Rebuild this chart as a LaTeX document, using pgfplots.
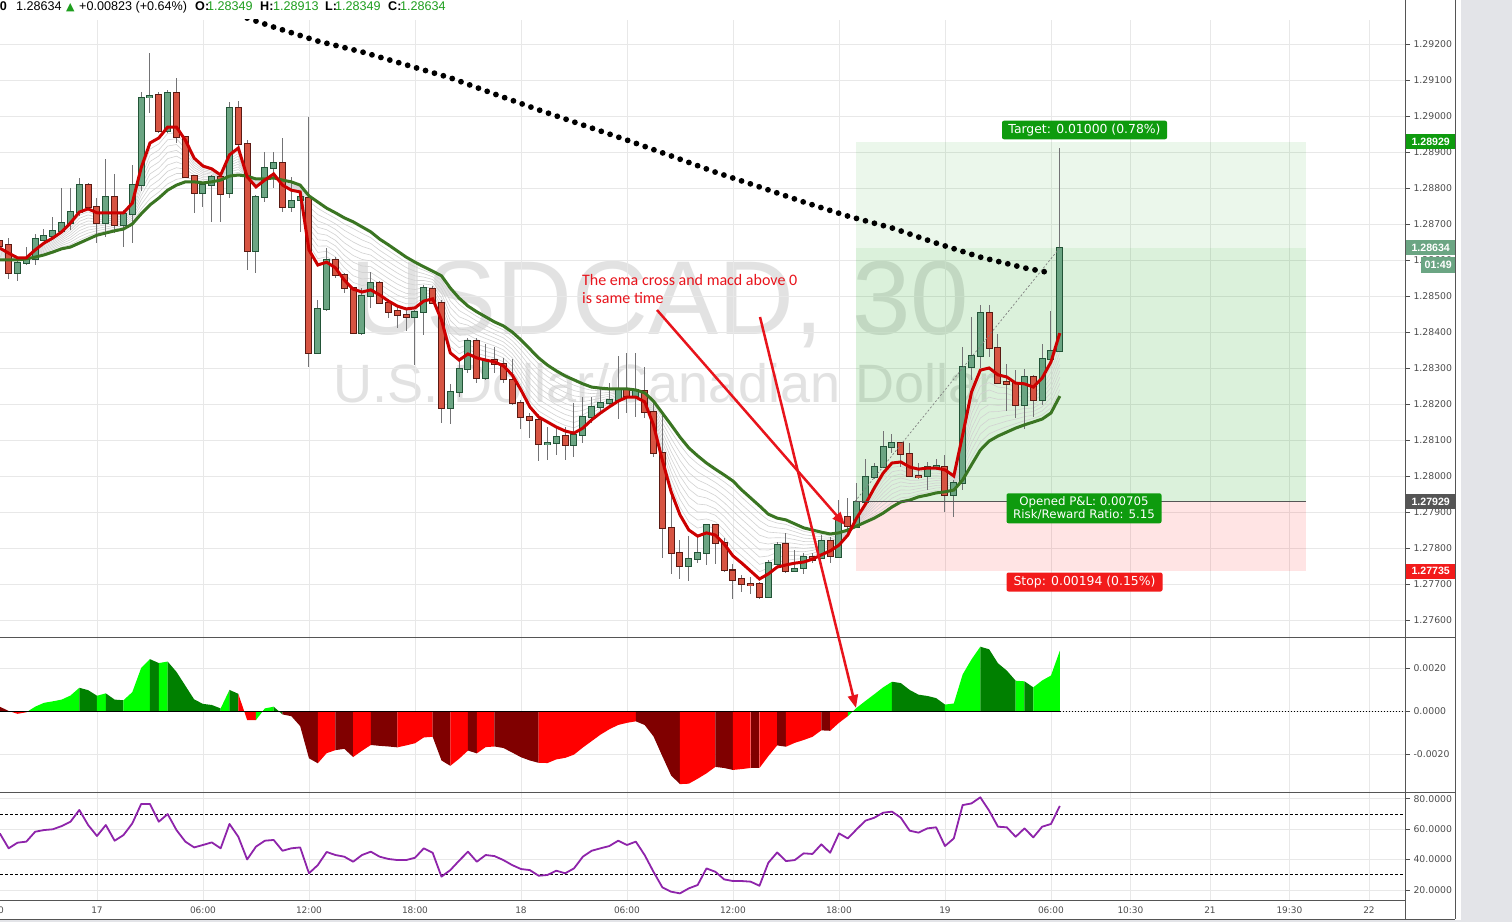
\documentclass[border=0pt]{standalone}
\usepackage{pgfplots}
\pgfplotsset{compat=1.18}
\usepackage{pgfplotstable}
\usepackage{fontspec}
\setmainfont{Liberation Sans}
\newfontfamily\dejavu{DejaVu Sans}
\newfontfamily\carlito{Carlito}
\usetikzlibrary{arrows.meta}

\definecolor{upfill}{HTML}{6BA583}
\definecolor{upline}{HTML}{225437}
\definecolor{dnfill}{HTML}{D75442}
\definecolor{dnline}{HTML}{5B1A13}
\definecolor{wick}{HTML}{737375}
\definecolor{emared}{HTML}{CC0000}
\definecolor{emagreen}{HTML}{3A7522}
\definecolor{ribbon}{HTML}{D2D2D2}
\definecolor{gridc}{HTML}{E8E8E8}
\definecolor{lbl}{HTML}{4D4D4D}
\definecolor{frame}{HTML}{555555}
\definecolor{tvgreen}{HTML}{0E9B0E}
\definecolor{tvred}{HTML}{F21B1B}
\definecolor{boxgreen}{RGB}{0,160,0}
\definecolor{hgreen}{HTML}{00FF00}
\definecolor{hdkgreen}{HTML}{008000}
\definecolor{hred}{HTML}{FF0000}
\definecolor{hdkred}{HTML}{800000}
\definecolor{rsic}{HTML}{8E24AA}
\definecolor{side}{HTML}{E3E4E8}
\definecolor{wm}{HTML}{E2E2E2}
\definecolor{note}{HTML}{E8141C}
\definecolor{hdrgreen}{HTML}{1E9E1E}

% 30 min bars, i = 0 is 17th 00:00
\pgfplotstableread{
i o h l c
-9 1.28564 1.28600 1.28544 1.28592
-8 1.28592 1.28636 1.28586 1.28603
-7 1.28603 1.28672 1.28586 1.28658
-6 1.28658 1.28686 1.28656 1.28669
-5 1.28669 1.28719 1.28667 1.28681
-4 1.28681 1.28800 1.28675 1.28703
-3 1.28703 1.28800 1.28683 1.28733
-2 1.28733 1.28828 1.28725 1.28808
1 1.28703 1.28881 1.28664 1.28775
3 1.28697 1.28739 1.28636 1.28728
4 1.28728 1.28864 1.28647 1.28808
5 1.28808 1.29067 1.28794 1.29050
6 1.29053 1.29175 1.29008 1.29056
8 1.28958 1.29072 1.28953 1.29064
12 1.28786 1.28817 1.28747 1.28808
13 1.28808 1.28836 1.28706 1.28831
15 1.28786 1.29039 1.28772 1.29022
18 1.28625 1.28781 1.28564 1.28775
19 1.28775 1.28900 1.28761 1.28856
20 1.28856 1.28900 1.28800 1.28869
22 1.28747 1.28831 1.28733 1.28764
23 1.28767 1.28794 1.28678 1.28775
25 1.28344 1.28489 1.28344 1.28464
26 1.28464 1.28633 1.28458 1.28600
30 1.28398 1.28522 1.28392 1.28500
31 1.28500 1.28567 1.28467 1.28536
36 1.28442 1.28461 1.28308 1.28456
37 1.28456 1.28531 1.28392 1.28522
40 1.28189 1.28258 1.28147 1.28233
41 1.28233 1.28322 1.28219 1.28297
42 1.28297 1.28383 1.28286 1.28375
44 1.28272 1.28367 1.28267 1.28322
51 1.28089 1.28136 1.28044 1.28092
52 1.28092 1.28136 1.28058 1.28111
54 1.28086 1.28203 1.28053 1.28114
55 1.28114 1.28219 1.28092 1.28164
56 1.28164 1.28219 1.28147 1.28192
57 1.28192 1.28244 1.28175 1.28203
58 1.28203 1.28258 1.28189 1.28211
59 1.28211 1.28336 1.28161 1.28242
61 1.28222 1.28342 1.28164 1.28239
67 1.27750 1.27833 1.27708 1.27769
68 1.27769 1.27831 1.27758 1.27786
69 1.27786 1.27869 1.27753 1.27864
76 1.27664 1.27767 1.27661 1.27758
77 1.27758 1.27817 1.27747 1.27811
79 1.27739 1.27794 1.27736 1.27744
80 1.27744 1.27789 1.27728 1.27775
82 1.27772 1.27836 1.27769 1.27819
84 1.27775 1.27933 1.27772 1.27886
86 1.27861 1.27981 1.27856 1.27928
87 1.27928 1.28050 1.27925 1.27997
88 1.27997 1.28036 1.27994 1.28025
89 1.28025 1.28125 1.28022 1.28081
90 1.28081 1.28117 1.28064 1.28092
94 1.28000 1.28039 1.27961 1.28025
95 1.28022 1.28047 1.28017 1.28028
97 1.27947 1.27989 1.27886 1.27981
98 1.27981 1.28358 1.27961 1.28303
99 1.28303 1.28442 1.28267 1.28333
100 1.28333 1.28475 1.28300 1.28453
105 1.28197 1.28300 1.28133 1.28275
107 1.28211 1.28369 1.28197 1.28325
108 1.28325 1.28458 1.28322 1.28347
109 1.28349 1.28913 1.28349 1.28634
}\upbars

\pgfplotstableread{
i o h l c
-11 1.28653 1.28733 1.28594 1.28639
-10 1.28644 1.28661 1.28547 1.28564
-1 1.28808 1.28814 1.28739 1.28747
0 1.28747 1.28772 1.28647 1.28703
2 1.28775 1.28839 1.28675 1.28697
7 1.29058 1.29067 1.28953 1.28958
9 1.29064 1.29106 1.28925 1.28942
10 1.28942 1.28942 1.28828 1.28833
11 1.28833 1.28833 1.28731 1.28786
14 1.28831 1.28831 1.28706 1.28786
16 1.29022 1.29044 1.28914 1.28922
17 1.28922 1.28933 1.28572 1.28625
21 1.28869 1.28939 1.28733 1.28747
24 1.28775 1.28997 1.28303 1.28344
27 1.28600 1.28608 1.28550 1.28558
28 1.28558 1.28564 1.28508 1.28522
29 1.28522 1.28525 1.28395 1.28398
32 1.28536 1.28542 1.28478 1.28481
33 1.28481 1.28494 1.28439 1.28458
34 1.28458 1.28469 1.28411 1.28447
35 1.28447 1.28464 1.28403 1.28442
38 1.28522 1.28528 1.28478 1.28481
39 1.28481 1.28489 1.28147 1.28189
43 1.28375 1.28383 1.28258 1.28272
45 1.28322 1.28358 1.28286 1.28311
46 1.28311 1.28328 1.28258 1.28269
47 1.28269 1.28325 1.28197 1.28203
48 1.28203 1.28211 1.28131 1.28164
49 1.28164 1.28175 1.28106 1.28156
50 1.28156 1.28175 1.28044 1.28089
53 1.28111 1.28136 1.28044 1.28086
60 1.28242 1.28342 1.28175 1.28222
62 1.28236 1.28303 1.28161 1.28178
63 1.28178 1.28211 1.28053 1.28064
64 1.28064 1.28178 1.27775 1.27856
65 1.27856 1.27961 1.27728 1.27786
66 1.27786 1.27822 1.27716 1.27750
70 1.27864 1.27869 1.27758 1.27814
71 1.27814 1.27828 1.27733 1.27739
72 1.27739 1.27758 1.27661 1.27714
73 1.27714 1.27725 1.27678 1.27700
74 1.27700 1.27719 1.27672 1.27697
75 1.27700 1.27706 1.27658 1.27664
78 1.27811 1.27842 1.27731 1.27736
81 1.27775 1.27786 1.27758 1.27769
83 1.27819 1.27831 1.27758 1.27778
85 1.27886 1.27939 1.27842 1.27861
91 1.28092 1.28094 1.28025 1.28061
92 1.28061 1.28092 1.27997 1.28000
93 1.28000 1.28039 1.27994 1.27997
96 1.28025 1.28058 1.27900 1.27947
101 1.28453 1.28475 1.28331 1.28358
102 1.28358 1.28397 1.28258 1.28261
103 1.28261 1.28314 1.28183 1.28256
104 1.28258 1.28294 1.28161 1.28197
106 1.28275 1.28281 1.28164 1.28211
}\dnbars

% fast (r) and slow (g) EMA
\pgfplotstableread{
i r g
-11 1.28633 1.28600
-10 1.28619 1.28600
-9 1.28606 1.28600
-8 1.28606 1.28603
-7 1.28628 1.28608
-6 1.28647 1.28614
-5 1.28661 1.28622
-4 1.28678 1.28631
-3 1.28703 1.28636
-2 1.28733 1.28647
-1 1.28742 1.28658
0 1.28731 1.28669
1 1.28731 1.28675
2 1.28731 1.28681
3 1.28731 1.28686
4 1.28758 1.28700
5 1.28856 1.28728
6 1.28925 1.28753
7 1.28939 1.28772
8 1.28969 1.28794
9 1.28969 1.28808
10 1.28933 1.28817
11 1.28883 1.28817
12 1.28861 1.28814
13 1.28853 1.28817
14 1.28836 1.28822
15 1.28892 1.28833
16 1.28911 1.28836
17 1.28831 1.28833
18 1.28803 1.28825
19 1.28822 1.28825
20 1.28839 1.28828
21 1.28808 1.28822
22 1.28794 1.28817
23 1.28789 1.28808
24 1.28628 1.28778
25 1.28586 1.28761
26 1.28594 1.28744
27 1.28578 1.28731
28 1.28544 1.28717
29 1.28519 1.28706
30 1.28511 1.28692
31 1.28517 1.28678
32 1.28503 1.28658
33 1.28486 1.28642
34 1.28472 1.28625
35 1.28464 1.28608
36 1.28467 1.28594
37 1.28486 1.28581
38 1.28492 1.28569
39 1.28433 1.28556
40 1.28342 1.28522
41 1.28322 1.28494
42 1.28339 1.28472
43 1.28328 1.28456
44 1.28322 1.28442
45 1.28317 1.28428
46 1.28306 1.28417
47 1.28281 1.28400
48 1.28239 1.28378
49 1.28192 1.28353
50 1.28164 1.28328
51 1.28150 1.28308
52 1.28136 1.28292
53 1.28125 1.28278
54 1.28119 1.28267
55 1.28133 1.28256
56 1.28156 1.28247
57 1.28175 1.28244
58 1.28192 1.28242
59 1.28208 1.28242
60 1.28219 1.28242
61 1.28219 1.28239
62 1.28206 1.28231
63 1.28142 1.28208
64 1.28044 1.28175
65 1.27956 1.28142
66 1.27892 1.28108
67 1.27850 1.28078
68 1.27833 1.28056
69 1.27842 1.28036
70 1.27836 1.28019
71 1.27811 1.28003
72 1.27778 1.27986
73 1.27758 1.27961
74 1.27736 1.27939
75 1.27714 1.27917
76 1.27728 1.27894
77 1.27747 1.27883
78 1.27753 1.27878
79 1.27758 1.27867
80 1.27761 1.27856
81 1.27769 1.27850
82 1.27781 1.27844
83 1.27792 1.27839
84 1.27808 1.27842
85 1.27836 1.27850
86 1.27883 1.27861
87 1.27922 1.27872
88 1.27967 1.27883
89 1.28008 1.27897
90 1.28036 1.27914
91 1.28039 1.27928
92 1.28025 1.27933
93 1.28019 1.27942
94 1.28022 1.27947
95 1.28022 1.27953
96 1.28017 1.27956
97 1.28000 1.27961
98 1.28114 1.27989
99 1.28233 1.28031
100 1.28294 1.28072
101 1.28300 1.28097
102 1.28281 1.28111
103 1.28275 1.28122
104 1.28258 1.28133
105 1.28256 1.28142
106 1.28247 1.28150
107 1.28272 1.28158
108 1.28317 1.28175
109 1.28397 1.28222
}\ema

% long moving average (dotted)
\pgfplotstableread{
i d
17 1.29272
20 1.29247
25 1.29208
30 1.29178
35 1.29142
40 1.29106
45 1.29061
50 1.29017
55 1.28975
60 1.28933
65 1.28889
70 1.28844
75 1.28803
80 1.28761
85 1.28722
90 1.28689
95 1.28647
100 1.28608
105 1.28578
108 1.28564
}\slowma

% MACD histogram
\pgfplotstableread{
i m
-11 0.00020
-10 0.00000
-9 -0.00013
-8 -0.00006
-7 0.00020
-6 0.00038
-5 0.00045
-4 0.00053
-3 0.00072
-2 0.00108
-1 0.00097
0 0.00071
1 0.00082
2 0.00053
3 0.00050
4 0.00088
5 0.00200
6 0.00241
7 0.00223
8 0.00230
9 0.00182
10 0.00118
11 0.00054
12 0.00033
13 0.00028
14 0.00012
15 0.00098
16 0.00080
17 -0.00042
18 -0.00042
19 0.00012
20 0.00020
21 -0.00016
22 -0.00024
23 -0.00070
24 -0.00220
25 -0.00243
26 -0.00196
27 -0.00182
28 -0.00176
29 -0.00214
30 -0.00185
31 -0.00158
32 -0.00162
33 -0.00165
34 -0.00169
35 -0.00160
36 -0.00150
37 -0.00123
38 -0.00120
39 -0.00230
40 -0.00255
41 -0.00222
42 -0.00184
43 -0.00197
44 -0.00168
45 -0.00165
46 -0.00172
47 -0.00193
48 -0.00215
49 -0.00230
50 -0.00241
51 -0.00242
52 -0.00225
53 -0.00218
54 -0.00203
55 -0.00170
56 -0.00140
57 -0.00110
58 -0.00085
59 -0.00065
60 -0.00055
61 -0.00048
62 -0.00065
63 -0.00118
64 -0.00210
65 -0.00300
66 -0.00340
67 -0.00338
68 -0.00315
69 -0.00290
70 -0.00260
71 -0.00265
72 -0.00274
73 -0.00270
74 -0.00265
75 -0.00265
76 -0.00210
77 -0.00160
78 -0.00166
79 -0.00148
80 -0.00135
81 -0.00120
82 -0.00090
83 -0.00092
84 -0.00055
85 -0.00024
86 0.00015
87 0.00047
88 0.00078
89 0.00110
90 0.00136
91 0.00130
92 0.00098
93 0.00076
94 0.00070
95 0.00060
96 0.00030
97 0.00035
98 0.00170
99 0.00240
100 0.00299
101 0.00287
102 0.00222
103 0.00188
104 0.00141
105 0.00138
106 0.00110
107 0.00142
108 0.00165
109 0.00280
}\macd

% RSI
\pgfplotstableread{
i v
-11 57.2
-10 47.4
-9 51.1
-8 51.8
-7 58.3
-6 59.4
-5 59.9
-4 62.0
-3 64.9
-2 72.6
-1 62.7
0 55.5
1 62.7
2 52.4
3 56.1
4 63.8
5 76.5
6 76.5
7 64.9
8 69.9
9 59.4
10 51.8
11 48.0
12 49.6
13 51.3
14 47.4
15 63.4
16 55.0
17 40.1
18 48.5
19 52.4
20 52.9
21 45.8
22 47.4
23 48.0
24 31.0
25 36.4
26 45.0
27 43.0
28 41.9
29 38.6
30 43.0
31 45.2
32 41.9
33 40.4
34 39.7
35 39.7
36 41.2
37 47.4
38 44.5
39 28.8
40 33.1
41 39.3
42 45.2
43 38.6
44 43.0
45 42.3
46 39.7
47 36.4
48 33.8
49 33.1
50 29.4
51 29.9
52 32.7
53 31.0
54 34.2
55 41.9
56 45.8
57 47.4
58 48.9
59 52.4
60 49.6
61 51.8
62 43.0
63 32.0
64 21.8
65 18.9
66 17.8
67 21.1
68 23.3
69 34.2
70 32.0
71 27.0
72 25.9
73 25.9
74 25.5
75 22.8
76 37.9
77 44.7
78 39.0
79 39.7
80 44.1
81 43.7
82 50.0
83 44.5
84 57.2
85 53.9
86 59.9
87 65.6
88 67.5
89 70.8
90 71.5
91 67.5
92 59.0
93 57.7
94 60.5
95 61.2
96 48.9
97 53.9
98 75.8
99 76.9
100 80.9
101 72.1
102 61.6
103 61.2
104 55.0
105 60.5
106 54.6
107 61.6
108 63.4
109 75.2
}\rsi

\pgfplotsset{
  pane/.style={
    scale only axis, width=1405pt, anchor=south west,
    xmin=-10.98, xmax=148.08,
    axis line style={draw=none},
    xtick={0,12,24,36,48,60,72,84,96,108,117,126,135,144},
    xticklabels={},
    xtick style={draw=none},
    grid=major, major grid style={draw=gridc, line width=0.8pt},
    ytick pos=right, yticklabel pos=right,
    tick align=outside, major tick length=5pt,
    ytick style={draw=lbl, line width=0.6pt},
    yticklabel style={font=\dejavu\fontsize{9.3}{11}\selectfont, text=lbl},
    scaled y ticks=false,
    /pgf/number format/assume math mode=true,
  },
}

% one candle colour: wicks, body outline, body fill
\newcommand\candles[3]{%
  \addplot[draw=none, mark=none, error bars/.cd, y dir=both, y explicit, error mark=none,
    error bar style={draw=wick, solid, line width=1pt}]
    table[x=i, y expr={(\thisrow{h}+\thisrow{l})/2}, y error expr={(\thisrow{h}-\thisrow{l})/2}] {#1};
  \addplot[draw=none, mark=none, error bars/.cd, y dir=both, y explicit, error mark=none,
    error bar style={draw=#3, solid, line width=7pt}]
    table[x=i, y expr={(\thisrow{o}+\thisrow{c})/2}, y error expr={abs(\thisrow{c}-\thisrow{o})/2+0.000028}] {#1};
  \addplot[draw=none, mark=none, error bars/.cd, y dir=both, y explicit, error mark=none,
    error bar style={draw=#2, solid, line width=5pt}]
    table[x=i, y expr={(\thisrow{o}+\thisrow{c})/2}, y error expr={abs(\thisrow{c}-\thisrow{o})/2}] {#1};
}
\newcommand\mseg[3]{\addplot[fill=#3, draw=none, restrict x to domain=#1:#2] table[x=i,y=m]{\macd} \closedcycle;}

\begin{document}
\begin{tikzpicture}[x=1pt, y=1pt]
\useasboundingbox (0,0) rectangle (1512,922);
\fill[white] (0,0) rectangle (1512,922);

% watermark
\node[anchor=base, text=wm, inner sep=0, font=\fontsize{105}{105}\selectfont] at (660,587) {USDCAD, 30};
\node[anchor=base west, text=wm, inner sep=0, font=\fontsize{54}{54}\selectfont] at (333,519) {U.S. Dollar/Canadian Dollar};

% price pane
\begin{axis}[pane, at={(0pt,285pt)}, height=617pt,
  ymin=1.275528, ymax=1.292666,
  ytick={1.276,1.277,1.278,1.279,1.280,1.281,1.282,1.283,1.284,1.285,1.286,1.287,1.288,1.289,1.290,1.291,1.292},
  yticklabel style={/pgf/number format/fixed, /pgf/number format/fixed zerofill, /pgf/number format/precision=5},
]
% long position tool
\addplot[fill=boxgreen, fill opacity=0.08, draw=none] coordinates {(85.93,1.28634) (136.87,1.28634) (136.87,1.28929) (85.93,1.28929)} -- cycle;
\addplot[fill=boxgreen, fill opacity=0.14, draw=none] coordinates {(85.93,1.27929) (136.87,1.27929) (136.87,1.28634) (85.93,1.28634)} -- cycle;
\addplot[fill=red, fill opacity=0.105, draw=none] coordinates {(85.93,1.27735) (136.87,1.27735) (136.87,1.27929) (85.93,1.27929)} -- cycle;
% EMA ribbon
\pgfplotsinvokeforeach{0.1,0.2,0.3,0.4,0.5,0.6,0.7,0.8,0.9}{
  \addplot[ribbon, line width=0.6pt] table[x=i, y expr={#1*\thisrow{r}+(1-#1)*\thisrow{g}}] {\ema};
}
\candles{\upbars}{upfill}{upline}
\candles{\dnbars}{dnfill}{dnline}
\addplot[emagreen, line width=3pt] table[x=i, y=g] {\ema};
\addplot[emared, line width=3pt] table[x=i, y=r] {\ema};
\addplot[black, line width=5.8pt, line cap=round, dash pattern=on 0pt off 9.3pt] table[x=i, y=d] {\slowma};
\addplot[frame, line width=1pt] coordinates {(85.93,1.27929) (136.87,1.27929)};
\addplot[gray, line width=0.7pt, dash pattern=on 2pt off 2pt] coordinates {(85.8,1.27929) (109,1.28634)};
\end{axis}

% MACD pane
\begin{axis}[pane, at={(0pt,130pt)}, height=155pt,
  ymin=-0.003767, ymax=0.003442,
  ytick={-0.002,0,0.002},
  yticklabel style={/pgf/number format/fixed, /pgf/number format/fixed zerofill, /pgf/number format/precision=4},
]
\mseg{-11}{-10}{hdkred}
\mseg{-10}{-8}{hred}
\mseg{-8}{-2}{hgreen}
\mseg{-2}{0}{hdkgreen}
\mseg{0}{1}{hgreen}
\mseg{1}{3}{hdkgreen}
\mseg{3}{6}{hgreen}
\mseg{6}{7}{hdkgreen}
\mseg{7}{8}{hgreen}
\mseg{8}{14}{hdkgreen}
\mseg{14}{15}{hgreen}
\mseg{15}{16}{hdkgreen}
\mseg{16}{18}{hred}
\mseg{18}{20}{hgreen}
\mseg{20}{21}{hdkgreen}
\mseg{21}{25}{hdkred}
\mseg{25}{27}{hred}
\mseg{27}{29}{hdkred}
\mseg{29}{31}{hred}
\mseg{31}{34}{hdkred}
\mseg{34}{38}{hred}
\mseg{38}{40}{hdkred}
\mseg{40}{42}{hred}
\mseg{42}{43}{hdkred}
\mseg{43}{45}{hred}
\mseg{45}{50}{hdkred}
\mseg{50}{61}{hred}
\mseg{61}{66}{hdkred}
\mseg{66}{70}{hred}
\mseg{70}{72}{hdkred}
\mseg{72}{74}{hred}
\mseg{74}{75}{hdkred}
\mseg{75}{77}{hred}
\mseg{77}{78}{hdkred}
\mseg{78}{82}{hred}
\mseg{82}{83}{hdkred}
\mseg{83}{85}{hred}
\mseg{85}{90}{hgreen}
\mseg{90}{96}{hdkgreen}
\mseg{96}{100}{hgreen}
\mseg{100}{104}{hdkgreen}
\mseg{104}{105}{hgreen}
\mseg{105}{106}{hdkgreen}
\mseg{106}{109}{hgreen}
\addplot[black, line width=1pt] coordinates {(-11,0) (109,0)};
\addplot[black, line width=0.8pt, dash pattern=on 1.5pt off 1.5pt] coordinates {(109,0) (148.08,0)};
\end{axis}

% RSI pane
\begin{axis}[pane, at={(0pt,22pt)}, height=108pt,
  ymin=13.45, ymax=84.40,
  ytick={20,40,60,80},
  yticklabel style={/pgf/number format/fixed, /pgf/number format/fixed zerofill, /pgf/number format/precision=4},
  xticklabels={17,06:00,12:00,18:00,18,06:00,12:00,18:00,19,06:00,10:30,21,19:30,22},
  xticklabel style={font=\dejavu\fontsize{9}{11}\selectfont, text=lbl, yshift=1.5pt},
]
\addplot[black, line width=0.8pt, dash pattern=on 3pt off 2pt] coordinates {(-10.98,70) (148.08,70)};
\addplot[black, line width=0.8pt, dash pattern=on 3pt off 2pt] coordinates {(-10.98,30) (148.08,30)};
\addplot[rsic, line width=1.8pt, line join=round] table[x=i, y=v] {\rsi};
\end{axis}

% frame
\fill[side] (1461,0) rectangle (1512,922);
\fill[side] (0,0) rectangle (1461,2.5);
\draw[frame, line width=1pt] (0,285) -- (1455,285);
\draw[frame, line width=1pt] (0,130) -- (1455,130);
\draw[frame, line width=1pt] (0,22) -- (1405,22);
\draw[frame, line width=1pt] (0,3) -- (1455,3);
\draw[frame, line width=1pt] (1405.5,3) -- (1405.5,922);
\draw[frame, line width=1pt] (1455,3) -- (1455,922);
\node[font=\dejavu\fontsize{9}{11}\selectfont, text=lbl] at (-9,12) {18:00};

% price scale labels
\begin{scope}[every node/.style={font=\bfseries\fontsize{10.6}{12}\selectfont, text=white, inner sep=0, minimum height=15pt}]
\node[fill=tvgreen, minimum width=49pt, anchor=west] at (1406,780.5) {1.28929};
\node[fill=upfill, minimum width=49pt, anchor=west] at (1406,674) {1.28634};
\node[fill=upfill, minimum width=34pt, minimum height=16pt, anchor=west] at (1421,657) {01:49};
\node[fill=frame, minimum width=49pt, anchor=west] at (1406,420.5) {1.27929};
\node[fill=tvred, minimum width=49pt, anchor=west] at (1406,351) {1.27735};
\end{scope}

% position labels
\node[fill=tvgreen, rounded corners=2pt, text=white, font=\dejavu\fontsize{12.4}{14}\selectfont, minimum width=165pt, minimum height=18.6pt, inner sep=0] at (1084.5,792) {Target: 0.01000 (0.78\%)};
\node[fill=tvgreen, rounded corners=2pt, text=white, font=\dejavu\fontsize{11.8}{12.5}\selectfont, minimum width=155pt, minimum height=30pt, inner sep=0, align=center] at (1084,413.7) {Opened P\&L: 0.00705\\Risk/Reward Ratio: 5.15};
\node[fill=tvred, rounded corners=2pt, text=white, font=\dejavu\fontsize{12.4}{14}\selectfont, minimum width=156pt, minimum height=19pt, inner sep=0] at (1084.5,340) {Stop: 0.00194 (0.15\%)};

% annotation
\node[anchor=base west, inner sep=0, text=note, font=\carlito\fontsize{16}{18}\selectfont] at (582,636.7) {The ema cross and macd above 0};
\node[anchor=base west, inner sep=0, text=note, font=\carlito\fontsize{16}{18}\selectfont] at (582,618.3) {is same time};
\draw[note, line width=2.5pt, -{Triangle[length=13pt, width=10pt]}] (657,612) -- (845,397);
\draw[note, line width=2.5pt, -{Triangle[length=13pt, width=10pt]}] (760,605) -- (856,214);

% header
\begin{scope}[every node/.style={anchor=base west, inner sep=0, font=\fontsize{12.6}{14}\selectfont}]
\node[anchor=base east, font=\bfseries\fontsize{12.6}{14}\selectfont] at (7,911) {30};
\node at (16,911) {1.28634};
\node[text=hdrgreen, font=\dejavu\fontsize{11}{13}\selectfont] at (66,911) {▲};
\node at (79,911) {+0.00823 (+0.64\%)};
\node[font=\bfseries\fontsize{12.6}{14}\selectfont] at (195,911) {O:};
\node[text=hdrgreen] at (207,911) {1.28349};
\node[font=\bfseries\fontsize{12.6}{14}\selectfont] at (260,911) {H:};
\node[text=hdrgreen] at (273,911) {1.28913};
\node[font=\bfseries\fontsize{12.6}{14}\selectfont] at (325,911) {L:};
\node[text=hdrgreen] at (335,911) {1.28349};
\node[font=\bfseries\fontsize{12.6}{14}\selectfont] at (388,911) {C:};
\node[text=hdrgreen] at (400,911) {1.28634};
\end{scope}
\end{tikzpicture}
\end{document}
